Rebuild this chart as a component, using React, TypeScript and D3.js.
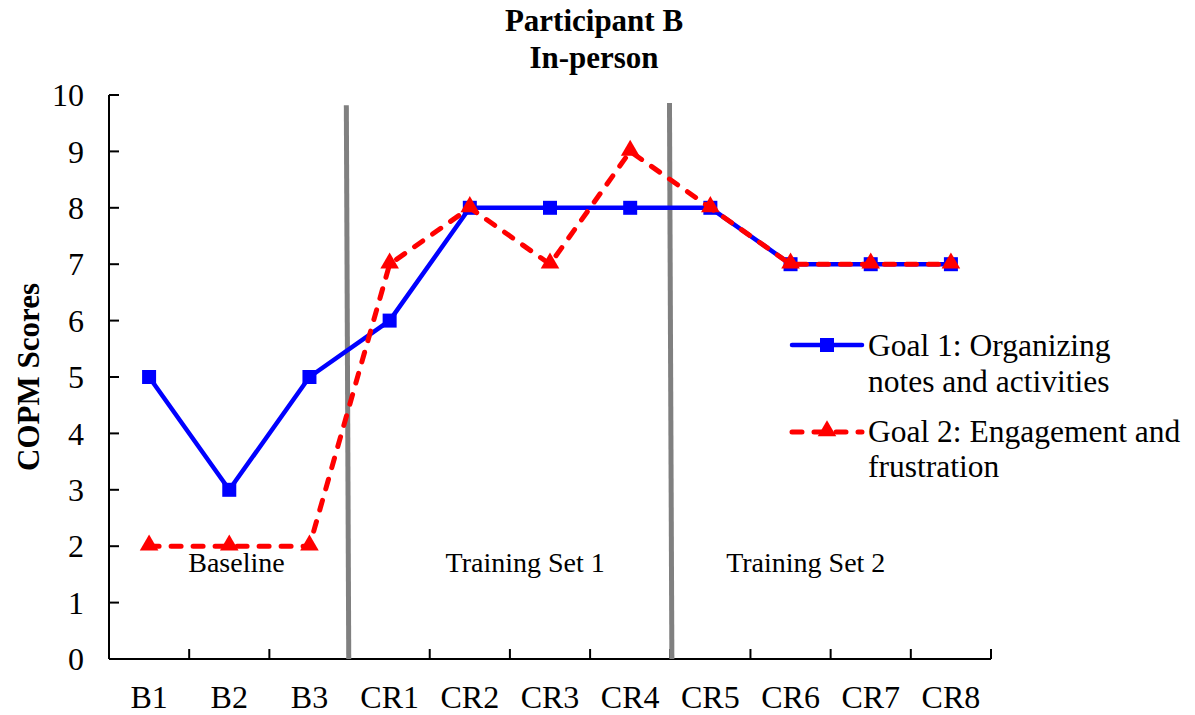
import React from 'react';
import * as d3 from 'd3';

// data
const sessions = ['B1', 'B2', 'B3', 'CR1', 'CR2', 'CR3', 'CR4', 'CR5', 'CR6', 'CR7', 'CR8'];
const goal1 = [5, 3, 5, 6, 8, 8, 8, 8, 7, 7, 7];
const goal2 = [2, 2, 2, 7, 8, 7, 9, 8, 7, 7, 7];
const yTicks = [0, 1, 2, 3, 4, 5, 6, 7, 8, 9, 10];

// phase change lines (session index units, slightly slanted as drawn) and phase labels
const phaseLineFrom = [2.46, 6.49];
const phaseLineTo = [2.49, 6.52];
const phaseLineTop = [9.82, 9.86];
const phaseNames = ['Baseline', 'Training Set 1', 'Training Set 2'];
const phaseNamePos = [1.09, 4.69, 8.19];

const width = 1195;
const height = 715;
const margin = { top: 95, right: 204, bottom: 56, left: 109 };
const FONT = '"Liberation Serif", "Times New Roman", serif';

export default function App() {
  const x = d3.scaleBand<string>()
    .domain(sessions)
    .range([margin.left, width - margin.right])
    .padding(0);
  const xi = d3.scaleLinear()
    .domain([-0.5, sessions.length - 0.5])
    .range([margin.left, width - margin.right]);
  const y = d3.scaleLinear()
    .domain([0, 10])
    .range([height - margin.bottom, margin.top]);

  const cx = (i: number) => (x(sessions[i]) as number) + x.bandwidth() / 2;

  const line = d3.line<number>()
    .x((d, i) => cx(i))
    .y(d => y(d));

  const triangle = d3.symbol().type(d3.symbolTriangle).size(150)();

  const x0 = margin.left;
  const x1 = width - margin.right;
  const y0 = y(0);

  // legend
  const legX = 792;
  const legLen = 70;
  const leg1Y = 345;
  const leg2Y = 432;

  return (
    <svg width={width} height={height} style={{ position: 'absolute', left: 0, top: 0, background: '#fff' }}
      fontFamily={FONT}>
      {/* title */}
      <text x={594} y={31} textAnchor="middle" fontSize={31} fontWeight="bold">Participant B</text>
      <text x={594} y={68} textAnchor="middle" fontSize={31} fontWeight="bold">In-person</text>

      {/* y axis label */}
      <text transform={`translate(39,${(margin.top + y0) / 2}) rotate(-90)`} textAnchor="middle"
        fontSize={31} fontWeight="bold">COPM Scores</text>

      {/* axes */}
      <line x1={x0} x2={x0} y1={y(10)} y2={y0} stroke="#000" strokeWidth={2} />
      <line x1={x0} x2={x1} y1={y0} y2={y0} stroke="#000" strokeWidth={2} />
      {yTicks.map(t => (
        <g key={t}>
          <line x1={x0} x2={x0 + 10} y1={y(t)} y2={y(t)} stroke="#000" strokeWidth={2} />
          <text x={84} y={y(t)} dy="0.35em" textAnchor="end" fontSize={32}>{t}</text>
        </g>
      ))}
      {sessions.map((s, i) => (
        <g key={s}>
          <line x1={(x(s) as number) + x.bandwidth()} x2={(x(s) as number) + x.bandwidth()}
            y1={y0} y2={y0 - 10} stroke="#000" strokeWidth={2} />
          <text x={cx(i)} y={708} textAnchor="middle" fontSize={32}>{s}</text>
        </g>
      ))}

      {/* phase lines */}
      {phaseLineFrom.map((p, i) => (
        <line key={i} x1={xi(p)} x2={xi(phaseLineTo[i])} y1={y(phaseLineTop[i])} y2={y0}
          stroke="#808080" strokeWidth={5} />
      ))}
      {phaseNames.map((n, i) => (
        <text key={n} x={xi(phaseNamePos[i])} y={572} textAnchor="middle" fontSize={28}>{n}</text>
      ))}

      {/* goal 1 */}
      <path d={line(goal1) as string} fill="none" stroke="#0000ff" strokeWidth={4.5} strokeLinejoin="round" />
      {goal1.map((v, i) => (
        <rect key={i} x={cx(i) - 7} y={y(v) - 7} width={14} height={14} fill="#0000ff" />
      ))}

      {/* goal 2 */}
      <path d={line(goal2) as string} fill="none" stroke="#ff0000" strokeWidth={5}
        strokeDasharray="10,12" strokeLinecap="round" strokeLinejoin="round" />
      {goal2.map((v, i) => (
        <path key={i} d={triangle as string} transform={`translate(${cx(i)},${y(v) - 1})`} fill="#ff0000" />
      ))}

      {/* legend */}
      <line x1={legX} x2={legX + legLen} y1={leg1Y} y2={leg1Y} stroke="#0000ff" strokeWidth={4.5} strokeLinecap="round" />
      <rect x={legX + legLen / 2 - 7} y={leg1Y - 7} width={14} height={14} fill="#0000ff" />
      <text x={868} y={356} fontSize={31.5}>Goal 1: Organizing</text>
      <text x={868} y={392} fontSize={31.5}>notes and activities</text>

      <line x1={legX} x2={legX + legLen} y1={leg2Y} y2={leg2Y} stroke="#ff0000" strokeWidth={5}
        strokeDasharray="10,12" strokeLinecap="round" />
      <path d={triangle as string} transform={`translate(${legX + legLen / 2},${leg2Y - 1})`} fill="#ff0000" />
      <text x={868} y={442} fontSize={31.5}>Goal 2: Engagement and</text>
      <text x={868} y={477} fontSize={31.5}>frustration</text>
    </svg>
  );
}
